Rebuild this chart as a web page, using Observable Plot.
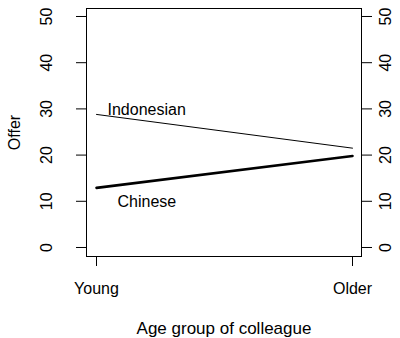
<!DOCTYPE html>
<html>
<head>
<meta charset="utf-8">
<script src="https://cdn.jsdelivr.net/npm/d3@7"></script>
<script src="https://cdn.jsdelivr.net/npm/@observablehq/plot@0.6"></script>
<style>
  html, body { margin: 0; padding: 0; background: #fff; }
  #chart svg { font-family: "Liberation Sans", Arial, Helvetica, sans-serif; }
</style>
</head>
<body>
<div id="chart"></div>
<script>
const ages = ["Young", "Older"];
const indonesian = [28.8, 21.5];
const chinese = [12.9, 19.8];
const yTicks = [0, 10, 20, 30, 40, 50];
const seriesNames = ["Indonesian", "Chinese"];

const rows = [];
ages.forEach((a, i) => {
  rows.push({series: "Indonesian", age: a, offer: indonesian[i]});
  rows.push({series: "Chinese", age: a, offer: chinese[i]});
});
const firstPoints = seriesNames.map(s => rows.find(r => r.series === s));

const fs = 16;
const chart = Plot.plot({
  width: 400,
  height: 338,
  marginLeft: 86,
  marginRight: 39,
  marginTop: 8,
  marginBottom: 82,
  style: {fontSize: fs + "px", fontFamily: "Liberation Sans, Arial, sans-serif", color: "black", background: "white"},
  x: {type: "point", domain: ages, padding: 0.0371, axis: null},
  y: {domain: [-1.95, 51.73], axis: null},
  marks: [
    Plot.frame({stroke: "black", strokeWidth: 1}),
    Plot.axisY(yTicks, {anchor: "left", tickSize: 10, tickFormat: () => "", label: null, stroke: "black"}),
    Plot.axisY(yTicks, {anchor: "right", tickSize: 10, tickFormat: () => "", label: null, stroke: "black"}),
    Plot.axisX(ages, {anchor: "bottom", tickSize: 10, tickFormat: () => "", label: null, stroke: "black"}),
    Plot.text(yTicks, {y: d => d, text: d => String(d), frameAnchor: "left", dx: -40, rotate: -90, textAnchor: "middle", fontSize: fs, fill: "black"}),
    Plot.text(yTicks, {y: d => d, text: d => String(d), frameAnchor: "right", dx: 24, rotate: -90, textAnchor: "middle", fontSize: fs, fill: "black"}),
    Plot.text(ages, {x: d => d, text: d => d, frameAnchor: "bottom", dy: 32, textAnchor: "middle", lineAnchor: "middle", fontSize: fs, fill: "black"}),
    Plot.text(["Age group of colleague"], {text: d => d, frameAnchor: "bottom", dy: 72, textAnchor: "middle", lineAnchor: "middle", fontSize: 17, fill: "black"}),
    Plot.text(["Offer"], {text: d => d, frameAnchor: "left", dx: -72, rotate: -90, textAnchor: "middle", lineAnchor: "middle", fontSize: fs, fill: "black"}),
    Plot.line(rows.filter(r => r.series === "Indonesian"), {x: "age", y: "offer", stroke: "black", strokeWidth: 1}),
    Plot.line(rows.filter(r => r.series === "Chinese"), {x: "age", y: "offer", stroke: "black", strokeWidth: 2.6}),
    Plot.text(firstPoints.filter(d => d.series === "Indonesian"), {x: "age", y: "offer", text: "series", textAnchor: "start", lineAnchor: "middle", dx: 11, dy: -5, fontSize: fs, fill: "black"}),
    Plot.text(firstPoints.filter(d => d.series === "Chinese"), {x: "age", y: "offer", text: "series", textAnchor: "start", lineAnchor: "middle", dx: 21, dy: 14, fontSize: fs, fill: "black"})
  ]
});
document.getElementById("chart").appendChild(chart);
</script>
</body>
</html>
